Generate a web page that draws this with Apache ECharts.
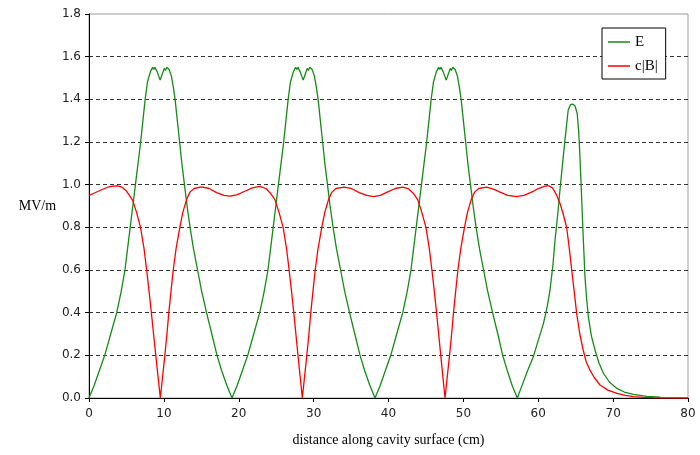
<!DOCTYPE html>
<html><head><meta charset="utf-8">
<script src="https://cdn.jsdelivr.net/npm/echarts@6/dist/echarts.min.js"></script>
<style>html,body{margin:0;padding:0;background:#fff}#c{width:700px;height:455px}</style>
</head><body><div id="c"></div>
<script>
// X ticks / Y ticks
const xTicks = [0, 10, 20, 30, 40, 50, 60, 70, 80];
const yTicks = [0, 0.2, 0.4, 0.6, 0.8, 1.0, 1.2, 1.4, 1.6, 1.8];
const seriesNames = ['E', 'c|B|'];

// E field, cell by cell [cm, MV/m]
const eCell1 = [[0,0],[0.7,0.06],[1.4,0.13],[2.1,0.20],[2.9,0.30],[3.7,0.40],[4.3,0.50],[4.8,0.60],[5.15,0.70],[5.5,0.80],[5.85,0.90],[6.2,1.00],[6.55,1.10],[6.9,1.20],[7.2,1.30],[7.5,1.40],[7.8,1.48],[8.2,1.53],[8.5,1.55],[8.65,1.54],[8.8,1.55],[9.1,1.53],[9.5,1.49],[9.8,1.52],[10.05,1.545],[10.2,1.535],[10.4,1.55],[10.7,1.54],[11.0,1.51],[11.25,1.46],[11.5,1.40],[11.8,1.30],[12.1,1.20],[12.4,1.10],[12.75,1.00],[13.1,0.90],[13.5,0.80],[13.95,0.70],[14.5,0.60],[15.05,0.50],[15.7,0.40],[16.4,0.30],[17.1,0.20],[17.7,0.13],[18.4,0.06],[19.1,0]];
const eCell2 = [[19.8,0.06],[20.5,0.13],[21.2,0.20],[22.0,0.30],[22.8,0.40],[23.4,0.50],[23.9,0.60],[24.25,0.70],[24.6,0.80],[24.95,0.90],[25.3,1.00],[25.65,1.10],[26.0,1.20],[26.3,1.30],[26.6,1.40],[26.9,1.48],[27.3,1.53],[27.6,1.55],[27.75,1.54],[27.9,1.55],[28.2,1.53],[28.6,1.49],[28.9,1.52],[29.15,1.545],[29.3,1.535],[29.5,1.55],[29.8,1.54],[30.1,1.51],[30.35,1.46],[30.6,1.40],[30.9,1.30],[31.2,1.20],[31.5,1.10],[31.85,1.00],[32.2,0.90],[32.6,0.80],[33.05,0.70],[33.6,0.60],[34.15,0.50],[34.8,0.40],[35.5,0.30],[36.2,0.20],[36.8,0.13],[37.5,0.06],[38.2,0]];
const eCell3 = [[38.9,0.06],[39.6,0.13],[40.3,0.20],[41.1,0.30],[41.9,0.40],[42.5,0.50],[43.0,0.60],[43.35,0.70],[43.7,0.80],[44.05,0.90],[44.4,1.00],[44.75,1.10],[45.1,1.20],[45.4,1.30],[45.7,1.40],[46.0,1.48],[46.4,1.53],[46.7,1.55],[46.85,1.54],[47.0,1.55],[47.3,1.53],[47.7,1.49],[48.0,1.52],[48.25,1.545],[48.4,1.535],[48.6,1.55],[48.9,1.54],[49.2,1.51],[49.45,1.46],[49.7,1.40],[50.0,1.30],[50.3,1.20],[50.6,1.10],[50.95,1.00],[51.3,0.90],[51.7,0.80],[52.15,0.70],[52.7,0.60],[53.25,0.50],[53.9,0.40],[54.6,0.30],[55.25,0.20],[55.85,0.13],[56.5,0.06],[57.2,0]];
const eCell4 = [[57.9,0.065],[58.6,0.13],[59.35,0.194],[60.0,0.27],[60.7,0.35],[61.2,0.43],[61.57,0.506],[61.95,0.62],[62.24,0.74],[62.6,0.86],[62.9,0.975],[63.25,1.10],[63.57,1.21],[64.0,1.35],[64.3,1.375],[64.6,1.378],[64.9,1.37],[65.2,1.335],[65.4,1.25],[65.57,1.131],[65.75,0.98],[65.93,0.819],[66.1,0.68],[66.24,0.569],[66.45,0.47],[66.69,0.381],[67.1,0.29],[67.58,0.225],[68.1,0.165],[68.7,0.116],[69.5,0.075],[70.5,0.045],[71.5,0.028],[72.7,0.017],[74.5,0.008],[76.3,0.004]];

// c|B|, cell by cell [cm, MV/m]
const bCell0 = [[0,0.95],[0.8,0.962],[1.6,0.975],[2.5,0.988],[3.2,0.993],[3.8,0.994],[4.4,0.988],[5.0,0.97],[5.4,0.95],[5.85,0.925],[6.35,0.87],[6.88,0.80],[7.35,0.70],[7.7,0.60],[8.02,0.50],[8.33,0.40],[8.62,0.30],[8.92,0.20],[9.22,0.10],[9.53,0]];
const bCell1 = [[9.83,0.10],[10.13,0.20],[10.41,0.30],[10.66,0.40],[10.95,0.50],[11.25,0.60],[11.63,0.70],[12.13,0.80],[12.53,0.87],[13.03,0.93],[13.48,0.965],[14.03,0.982],[15.03,0.99],[16.03,0.982],[17.03,0.963],[18.03,0.95],[18.83,0.946],[19.73,0.952],[20.73,0.968],[21.83,0.985],[22.83,0.992],[23.63,0.982],[24.23,0.96],[24.83,0.93],[25.38,0.87],[25.93,0.80],[26.38,0.70],[26.73,0.60],[27.05,0.50],[27.35,0.40],[27.63,0.30],[27.91,0.20],[28.2,0.10],[28.49,0]];
const bCell2 = [[28.79,0.10],[29.09,0.20],[29.37,0.30],[29.62,0.40],[29.91,0.50],[30.21,0.60],[30.59,0.70],[31.09,0.80],[31.49,0.87],[31.99,0.93],[32.44,0.965],[32.99,0.982],[34.09,0.988],[35.09,0.981],[36.09,0.963],[37.09,0.95],[38.0,0.944],[38.9,0.95],[39.9,0.966],[40.9,0.982],[41.9,0.988],[42.7,0.98],[43.3,0.96],[43.9,0.93],[44.45,0.87],[45.0,0.80],[45.45,0.70],[45.8,0.60],[46.12,0.50],[46.42,0.40],[46.7,0.30],[46.98,0.20],[47.26,0.10],[47.55,0]];
const bCell3 = [[47.85,0.10],[48.15,0.20],[48.43,0.30],[48.68,0.40],[48.97,0.50],[49.27,0.60],[49.65,0.70],[50.15,0.80],[50.55,0.87],[51.05,0.93],[51.5,0.965],[52.05,0.982],[53.1,0.988],[54.1,0.978],[54.9,0.965],[55.9,0.95],[57.1,0.944],[58.1,0.95],[59.1,0.965],[60.1,0.983],[60.9,0.993],[61.35,0.995],[61.9,0.985],[62.4,0.955],[62.9,0.913],[63.35,0.86],[63.8,0.798],[64.15,0.70],[64.47,0.599],[64.8,0.50],[65.13,0.397],[65.55,0.30],[66.0,0.225],[66.4,0.17],[66.9,0.131],[67.5,0.095],[68.25,0.061],[69.3,0.037],[70.5,0.022],[71.6,0.012],[72.7,0.006],[74.0,0.003],[76.0,0.001],[80,0]];

const eData = eCell1.concat(eCell2, eCell3, eCell4);
const bData = bCell0.concat(bCell1, bCell2, bCell3);

const chart = echarts.init(document.getElementById('c'), null, {renderer: 'canvas'});
const tickFont = {fontFamily: 'DejaVu Sans', fontSize: 12, color: '#222'};
const serif = 'Liberation Serif';
chart.setOption({
  animation: false,
  backgroundColor: '#fff',
  grid: {left: 89, right: 12, top: 14, bottom: 57, show: true, borderColor: '#9a9a9a', borderWidth: 1, backgroundColor: 'transparent'},
  legend: {
    orient: 'vertical', left: 602, top: 28, itemWidth: 22, itemHeight: 1.5, itemGap: 6,
    icon: 'rect',
    padding: [5, 8, 4, 6], backgroundColor: '#fff', borderColor: '#000', borderWidth: 1,
    textStyle: {fontFamily: serif, fontSize: 15, color: '#000', lineHeight: 18},
    data: seriesNames
  },
  xAxis: {
    type: 'value', min: xTicks[0], max: xTicks[xTicks.length - 1], interval: 10,
    name: 'distance along cavity surface (cm)', nameLocation: 'middle', nameGap: 35,
    nameTextStyle: {fontFamily: serif, fontSize: 14, color: '#000'},
    axisLine: {show: true, onZero: false, lineStyle: {color: '#000', width: 1}},
    axisTick: {show: true, inside: false, length: 4, lineStyle: {color: '#000'}},
    axisLabel: Object.assign({margin: 10}, tickFont),
    splitLine: {show: false}
  },
  yAxis: {
    type: 'value', min: yTicks[0], max: yTicks[yTicks.length - 1], interval: 0.2,
    name: 'MV/m', nameLocation: 'middle', nameRotate: 0, nameGap: 32,
    nameTextStyle: {fontFamily: serif, fontSize: 14, color: '#000', align: 'right'},
    axisLine: {show: true, lineStyle: {color: '#000', width: 1}},
    axisTick: {show: true, inside: false, length: 4, lineStyle: {color: '#000'}},
    axisLabel: Object.assign({margin: 8, formatter: v => v.toFixed(1)}, tickFont),
    splitLine: {show: true, showMinLine: false, showMaxLine: false, lineStyle: {color: '#333', type: [4, 3], width: 1}}
  },
  series: [
    {name: seriesNames[0], type: 'line', data: eData, symbol: 'none', smooth: false,
     lineStyle: {color: '#168a16', width: 1.3}, itemStyle: {color: '#168a16'}, z: 3},
    {name: seriesNames[1], type: 'line', data: bData, symbol: 'none', smooth: false,
     lineStyle: {color: '#ff0000', width: 1.3}, itemStyle: {color: '#ff0000'}, z: 4}
  ]
});
</script></body></html>
